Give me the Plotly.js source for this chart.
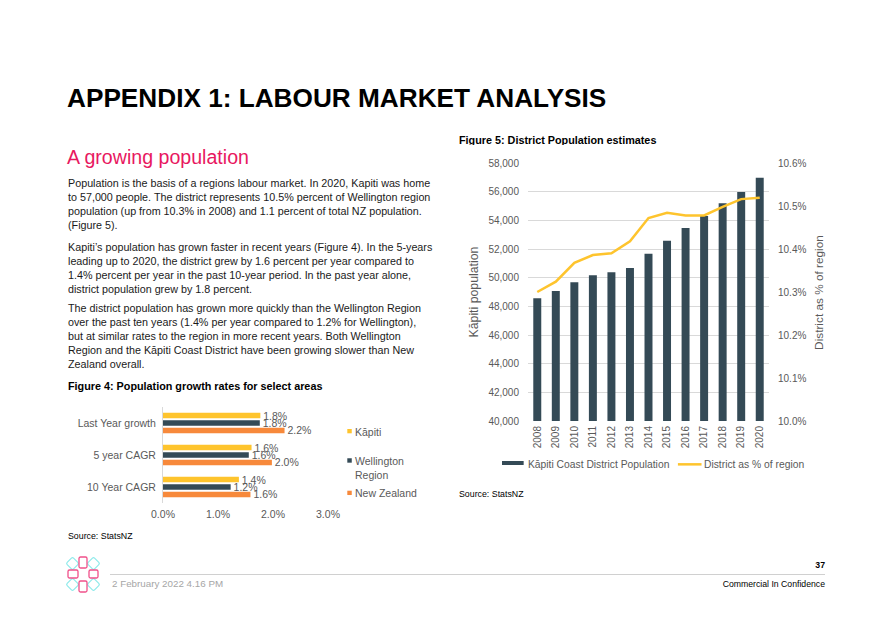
<!DOCTYPE html>
<html>
<head>
<meta charset="utf-8">
<script src="https://cdn.plot.ly/plotly-3.0.1.min.js"></script>
<style>
  html, body { margin:0; padding:0; background:#fff; }
  body { width:893px; height:626px; position:relative; overflow:hidden;
         font-family: Arial, "Liberation Sans", sans-serif; color:#000; }
  .abs { position:absolute; white-space:nowrap; }
  #title { left:67px; top:83px; font-size:26.2px; font-weight:bold; line-height:30px; }
  #heading { left:67px; top:144px; font-size:19.6px; color:#E8185F; line-height:26px; }
  .para { left:68px; font-size:10.75px; line-height:14px; color:#1a1a1a; }
  .cap { font-size:10.8px; font-weight:bold; line-height:12px; }
  .src { font-size:8.8px; line-height:11px; }
  #chart1 { position:absolute; left:60px; top:400px; width:380px; height:130px; }
  #chart2 { position:absolute; left:460px; top:145px; width:380px; height:340px; }
  .foot { font-size:8.7px; line-height:10px; }
</style>
</head>
<body>
<div id="title" class="abs">APPENDIX 1: LABOUR MARKET ANALYSIS</div>
<div id="heading" class="abs">A growing population</div>
<div class="abs para" style="top:176px">Population is the basis of a regions labour market. In 2020, Kapiti was home<br>to 57,000 people. The district represents 10.5% percent of Wellington region<br>population (up from 10.3% in 2008) and 1.1 percent of total NZ population.<br>(Figure 5).</div>
<div class="abs para" style="top:240px">Kapiti’s population has grown faster in recent years (Figure 4). In the 5-years<br>leading up to 2020, the district grew by 1.6 percent per year compared to<br>1.4% percent per year in the past 10-year period. In the past year alone,<br>district population grew by 1.8 percent.</div>
<div class="abs para" style="top:301px">The district population has grown more quickly than the Wellington Region<br>over the past ten years (1.4% per year compared to 1.2% for Wellington),<br>but at similar rates to the region in more recent years. Both Wellington<br>Region and the Kāpiti Coast District have been growing slower than New<br>Zealand overall.</div>
<div class="abs cap" style="left:68px; top:380px">Figure 4: Population growth rates for select areas</div>
<div class="abs src" style="left:68px; top:531px">Source: StatsNZ</div>
<div class="abs cap" style="left:459px; top:134px">Figure 5: District Population estimates</div>
<div class="abs src" style="left:459px; top:489px">Source: StatsNZ</div>

<div id="chart1"></div>
<div id="chart2"></div>

<svg class="abs" style="left:64px; top:554px" width="40" height="40" viewBox="0 0 40 40">
  <g fill="none" stroke="#8EEAEA" stroke-width="1.2">
    <rect x="4" y="5" width="9" height="9" rx="1.5" transform="rotate(45 8.5 9.5)"/>
    <rect x="25" y="5" width="9" height="9" rx="1.5" transform="rotate(45 29.5 9.5)"/>
    <rect x="4" y="26" width="9" height="9" rx="1.5" transform="rotate(45 8.5 30.5)"/>
    <rect x="25" y="26" width="9" height="9" rx="1.5" transform="rotate(45 29.5 30.5)"/>
  </g>
  <g fill="none" stroke="#F0508A" stroke-width="1.3">
    <rect x="15" y="3" width="8" height="11" rx="1.5"/>
    <rect x="15" y="27" width="8" height="11" rx="1.5"/>
    <rect x="4" y="16" width="10" height="8" rx="1.5"/>
    <rect x="25" y="16" width="9" height="8" rx="1.5"/>
  </g>
</svg>
<div class="abs" style="left:110px; top:574px; width:715px; height:1px; background:#D0D0D0"></div>
<div class="abs foot" style="right:68px; top:560px; font-weight:bold">37</div>
<div class="abs foot" style="left:112px; top:579px; color:#A6A6A6; font-size:9.8px">2 February 2022 4.16 PM</div>
<div class="abs foot" style="right:68px; top:579px">Commercial In Confidence</div>

<script>
// ---- Figure 4 data ----
const growthCategories = ['Last Year growth', '5 year CAGR', '10 Year CAGR'];
const growthSeries = ['Kāpiti', 'Wellington<br>Region', 'New Zealand'];
const kapitiGrowth = [1.77, 1.61, 1.38];
const wellingtonGrowth = [1.76, 1.56, 1.23];
const nzGrowth = [2.21, 1.98, 1.59];
const growthTicks = [0, 1, 2, 3];
const growthTickText = growthTicks.map(v => v.toFixed(1) + '%');

// ---- Figure 5 data ----
const years = ['2008','2009','2010','2011','2012','2013','2014','2015','2016','2017','2018','2019','2020'];
const kapitiPopulation = [48560, 49070, 49680, 50160, 50370, 50670, 51670, 52580, 53460, 54300, 55190, 55980, 56970];
const districtSharePct = [10.300, 10.324, 10.368, 10.386, 10.390, 10.418, 10.472, 10.484, 10.478, 10.478, 10.498, 10.516, 10.519];
const popSeries = ['Kāpiti Coast District Population', 'District as % of region'];
const popAxisTitles = ['Kāpiti population', 'District as % of region'];

const YELLOW = '#FEC42D', DARK = '#344A56', ORANGE = '#F7893B', GREY = '#595959';
const FONT = 'Arial, "Liberation Sans", sans-serif';
const growthColors = [YELLOW, DARK, ORANGE];

function growthTrace(i, vals) {
  return {
    type: 'bar', orientation: 'h', name: growthSeries[i], x: vals, y: growthCategories,
    marker: { color: growthColors[i] }, texttemplate: '\u00a0%{x:.1f}%', textposition: 'outside',
    constraintext: 'none', cliponaxis: false,
    textfont: { size: 10.5, color: GREY, family: FONT },
    hoverinfo: 'skip'
  };
}

// Excel-style legend for Figure 4 (small squares + labels)
const legY = [[0.726, 0.771, 0.743], [0.420, 0.466, 0.361], [0.083, 0.128, 0.101]];
const leg1Shapes = growthSeries.map((s, i) => ({
  type: 'rect', xref: 'paper', yref: 'paper', x0: 1.117, x1: 1.144, y0: legY[i][0], y1: legY[i][1],
  fillcolor: growthColors[i], line: { width: 0 }
}));
const leg1Ann = growthSeries.map((s, i) => ({
  xref: 'paper', yref: 'paper', x: 1.150, y: legY[i][2], xanchor: 'left', yanchor: 'middle',
  align: 'left', text: s, showarrow: false, font: { size: 10.5, color: GREY, family: FONT }
}));

Plotly.newPlot('chart1', [
  growthTrace(0, kapitiGrowth),
  growthTrace(1, wellingtonGrowth),
  growthTrace(2, nzGrowth)
], {
  width: 380, height: 130,
  margin: { l: 103, r: 112, t: 7, b: 27, autoexpand: false },
  barmode: 'group', bargap: 0.3, bargroupgap: 0.24,
  paper_bgcolor: '#fff', plot_bgcolor: '#fff',
  font: { family: FONT, size: 10.5, color: GREY },
  xaxis: { range: [0, 3], tickmode: 'array', tickvals: growthTicks, ticktext: growthTickText,
           showgrid: false, zeroline: false, showline: false, ticks: '', fixedrange: true,
           automargin: false, ticklabelstandoff: 3, tickfont: { size: 10.5, color: GREY } },
  yaxis: { type: 'category', autorange: 'reversed', showgrid: false, zeroline: false,
           showline: true, linecolor: '#D9D9D9', linewidth: 1, ticks: '', ticklabelstandoff: 4,
           automargin: false, tickfont: { size: 10.5, color: GREY } },
  showlegend: false,
  shapes: leg1Shapes,
  annotations: leg1Ann
}, { displayModeBar: false, staticPlot: true });

// Excel-style legend for Figure 5
const leg2Shapes = [
  { type: 'rect', xref: 'paper', yref: 'paper', x0: -0.108, x1: -0.018, y0: -0.1705, y1: -0.155,
    fillcolor: DARK, line: { width: 0 } },
  { type: 'line', xref: 'paper', yref: 'paper', x0: 0.622, x1: 0.72, y0: -0.168, y1: -0.168,
    line: { color: YELLOW, width: 2.5 } }
];
const leg2Ann = [
  { xref: 'paper', yref: 'paper', x: -0.010, y: -0.1705, xanchor: 'left', yanchor: 'middle',
    text: popSeries[0], showarrow: false, font: { size: 10.3, color: GREY, family: FONT } },
  { xref: 'paper', yref: 'paper', x: 0.723, y: -0.1705, xanchor: 'left', yanchor: 'middle',
    text: popSeries[1], showarrow: false, font: { size: 10.3, color: GREY, family: FONT } },
  { xref: 'paper', yref: 'paper', x: -0.222, y: 0.5, xanchor: 'center', yanchor: 'middle',
    textangle: -90, text: popAxisTitles[0], showarrow: false, font: { size: 12.3, color: GREY, family: FONT } },
  { xref: 'paper', yref: 'paper', x: 1.207, y: 0.5, xanchor: 'center', yanchor: 'middle',
    textangle: -90, text: popAxisTitles[1], showarrow: false, font: { size: 11.8, color: GREY, family: FONT } }
];

Plotly.newPlot('chart2', [
  {
    type: 'bar', name: popSeries[0], x: years, y: kapitiPopulation,
    marker: { color: DARK }, hoverinfo: 'skip'
  },
  {
    type: 'scatter', mode: 'lines', name: popSeries[1], x: years, y: districtSharePct,
    yaxis: 'y2', line: { color: YELLOW, width: 2.5 }, hoverinfo: 'skip'
  }
], {
  width: 380, height: 340,
  margin: { l: 68, r: 71, t: 18, b: 64, autoexpand: false },
  bargap: 0.57,
  paper_bgcolor: '#fff', plot_bgcolor: '#fff',
  font: { family: FONT, size: 10, color: GREY },
  xaxis: { type: 'category', tickangle: -90, showgrid: false, zeroline: false, showline: false,
           ticks: '', automargin: false, ticklabelstandoff: 2, tickfont: { size: 10, color: GREY }, fixedrange: true },
  yaxis: { range: [40000, 58000], dtick: 2000, tickformat: ',d', showgrid: true, gridcolor: '#D9D9D9',
           zeroline: false, showline: false, ticks: '', ticklabelstandoff: 8, automargin: false,
           tickfont: { size: 10, color: GREY } },
  yaxis2: { overlaying: 'y', side: 'right', range: [10.0, 10.6], dtick: 0.1, tickformat: '.1f',
            ticksuffix: '%', showgrid: false, zeroline: false, showline: false, ticks: '',
            ticklabelstandoff: 8, automargin: false, tickfont: { size: 10, color: GREY } },
  showlegend: false,
  shapes: leg2Shapes,
  annotations: leg2Ann
}, { displayModeBar: false, staticPlot: true });
</script>
</body>
</html>
